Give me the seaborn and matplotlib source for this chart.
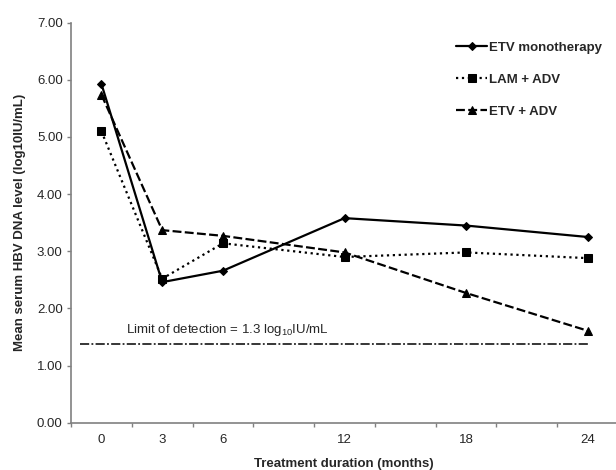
import numpy as np
import matplotlib
matplotlib.use('Agg')
import matplotlib.pyplot as plt
import seaborn as sns

# data
months = [0, 3, 6, 12, 18, 24]
etv_mono = [5.93, 2.46, 2.66, 3.58, 3.45, 3.25]
lam_adv = [5.10, 2.52, 3.14, 2.90, 2.98, 2.88]
etv_adv = [5.74, 3.37, 3.27, 2.98, 2.27, 1.61]
series_names = ['ETV monotherapy', 'LAM + ADV', 'ETV + ADV']
detection_limit = 1.38
limit_span = [-1.05, 24]
month_labels = ['0', '3', '6', '12', '18', '24']

sns.set_style('white')
plt.rcParams['font.family'] = ['Liberation Sans', 'DejaVu Sans']
plt.rcParams['mathtext.fontset'] = 'custom'
plt.rcParams['mathtext.rm'] = 'Liberation Sans'

FS = 9.5

fig = plt.figure(figsize=(6.16, 4.70), dpi=100)
ax = fig.add_axes([0.1153, 0.1006, 0.8847, 0.8511])

styles = [
    dict(marker='D', linestyle='-', markersize=4.5),
    dict(marker='s', linestyle=':', markersize=5.5),
    dict(marker='^', linestyle=(0, (4, 1.5)), markersize=5.5),
]
for vals, name, st in zip([etv_mono, lam_adv, etv_adv], series_names, styles):
    sns.lineplot(x=months, y=vals, ax=ax, color='black', linewidth=1.6,
                 label=name, markeredgecolor='black', markerfacecolor='black',
                 **st)

ax.plot(limit_span, [detection_limit, detection_limit], color='black',
        linewidth=1.1, linestyle=(0, (6, 1.5, 1.2, 1.5)))
ax.text(6.2, detection_limit + 0.1, r'Limit of detection = 1.3 log$_\mathregular{10}$IU/mL',
        ha='center', va='bottom', fontsize=FS)

ax.set_xlim(-1.5, 25.4)
ax.set_ylim(0, 7)
ax.set_xticks(np.arange(-1.5, 25.5, 3))
ax.set_xticklabels([])
ax.set_xticks(months, minor=True)
ax.set_xticklabels(month_labels, minor=True)
ax.tick_params(axis='x', which='major', length=3, width=1, color='#808080', direction='out')
ax.tick_params(axis='x', which='minor', length=0, pad=8, labelsize=FS)
ax.set_yticks(np.arange(0, 7.01, 1))
ax.set_yticklabels([f'{v:.2f}' for v in np.arange(0, 7.01, 1)])
ax.tick_params(axis='y', length=3, width=1, color='#808080', direction='out', labelsize=FS, pad=3)
ax.tick_params(bottom=True, left=True)

for side in ['top', 'right']:
    ax.spines[side].set_visible(False)
for side in ['left', 'bottom']:
    ax.spines[side].set_color('#808080')
    ax.spines[side].set_linewidth(1.2)

ax.set_xlabel('Treatment duration (months)', fontsize=FS, fontweight='bold', labelpad=9)
ax.set_ylabel('Mean serum HBV DNA level (log10IU/mL)', fontsize=FS, fontweight='bold', labelpad=8)

leg = ax.legend(loc='upper left', bbox_to_anchor=(0.706, 0.953), frameon=False,
                prop={'weight': 'bold', 'size': FS}, handlelength=2.4,
                handletextpad=0.15, labelspacing=1.5, borderpad=0, borderaxespad=0)

fig.savefig('out.png', dpi=100)
